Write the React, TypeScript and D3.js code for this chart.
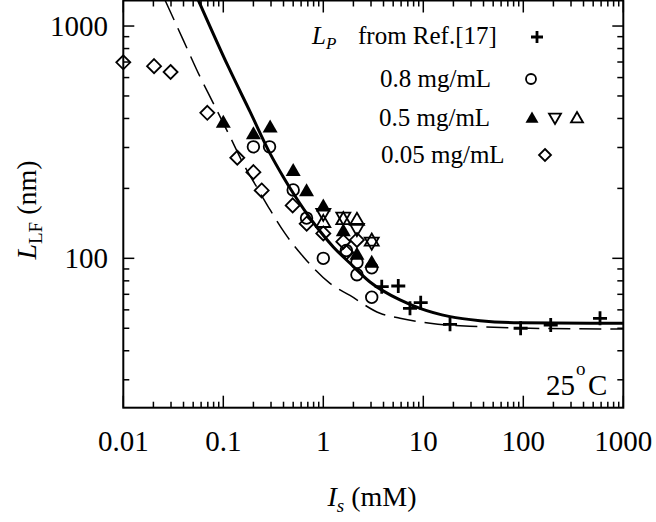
import React from 'react';
import * as d3 from 'd3';

// ---- data ----
const xMajor = [0.01, 0.1, 1, 10, 100, 1000];
const xTickLabels = ['0.01', '0.1', '1', '10', '100', '1000'];
const yMajor = [100, 1000];
const yTickLabels = ['100', '1000'];

// L_P from Ref.[17]
const plusX = [3.84, 5.62, 7.36, 9.42, 18.5, 94, 188, 585];
const plusY = [75.5, 76, 60.9, 64.4, 52, 50, 51.6, 55.2];

// 0.8 mg/mL (open circles)
const circX = [0.2, 0.29, 0.5, 0.68, 1.0, 1.7, 2.17, 2.17, 3.05, 3.05];
const circY = [302, 302, 197, 149, 100, 108, 96, 85, 91, 68];

// 0.5 mg/mL filled up-triangles
const ftriX = [0.1, 0.2, 0.294, 0.5, 0.68, 1.0, 1.585, 2.17, 3.05];
const ftriY = [381, 340, 363, 236, 193, 166, 130, 103, 95];
// 0.5 mg/mL open down-triangles
const dtriX = [1.0, 1.585, 2.17, 3.05];
const dtriY = [157, 151, 135, 118];
// 0.5 mg/mL open up-triangles
const utriX = [1.0, 1.585, 2.17, 3.05];
const utriY = [142, 146, 145, 118];

// 0.05 mg/mL (open diamonds)
const diaX = [0.01, 0.0203, 0.0297, 0.0692, 0.138, 0.2, 0.242, 0.494, 0.682, 1.0, 1.585, 1.7, 2.17];
const diaY = [698, 672, 634, 423, 271, 235, 196, 169, 141, 128, 118, 106, 120];

// solid theory curve
const solidX = [0.0562, 0.1122, 0.185, 0.293, 0.398, 0.501, 0.682, 0.826, 1.259, 1.85, 2.93, 5.85, 9.27, 18.5, 36.9, 92.7, 1000];
const solidY = [1294, 668, 428, 283, 224, 190.5, 156, 139.5, 112, 95.2, 79.1, 66.2, 60.9, 56.1, 53.9, 52.8, 52.5];

// dashed theory curve
const dashX = [0.0261, 0.0398, 0.0585, 0.0766, 0.1167, 0.158, 0.22, 0.293, 0.414, 0.631, 1.167, 1.85, 3.69, 5.85, 11.7, 36.9, 116.7, 1000];
const dashY = [1294, 870, 605, 480, 334, 256, 200, 162, 128, 101.6, 78, 69.2, 58, 55.2, 52.5, 50.8, 50, 49.6];

const FONT = "'Liberation Serif', 'Times New Roman', serif";

const triPath = (s: number, up: boolean) => {
  const h = (s * Math.sqrt(3)) / 2;
  const a = up ? -1 : 1;
  return `M0,${(a * 2 * h) / 3}L${s / 2},${(-a * h) / 3}L${-s / 2},${(-a * h) / 3}Z`;
};
const diaPath = (r: number) => `M0,${-r}L${r},0L0,${r}L${-r},0Z`;
const plusPath = (r: number) => `M${-r},0H${r}M0,${-r}V${r}`;

export default function App() {
  const L = 123.3, R = 623.3, T = 0.5, B = 407.7;
  const x = d3.scaleLog().domain([0.01, 1000]).range([L, R]);
  const y = d3.scaleLog().domain([22.75, 1288]).range([B, T]);

  const xAll = x.ticks();
  const yAll = y.ticks();
  const isMajor = (v: number) => Math.abs(Math.log10(v) - Math.round(Math.log10(v))) < 1e-6;

  const line = d3
    .line<[number, number]>()
    .x((d) => x(d[0]))
    .y((d) => y(d[1]))
    .curve(d3.curveMonotoneX);

  const solidPts = solidX.map((v, i) => [v, solidY[i]] as [number, number]);
  const dashPts = dashX.map((v, i) => [v, dashY[i]] as [number, number]);

  const sw = 1.8;

  return (
    <svg width={656} height={522} style={{ position: 'absolute', left: 0, top: 0, background: '#fff' }} fontFamily={FONT}>
      <defs>
        <clipPath id="plot">
          <rect x={L} y={T} width={R - L} height={B - T} />
        </clipPath>
      </defs>
      <rect x={0} y={0} width={656} height={522} fill="#fff" />

      {/* curves */}
      <g clipPath="url(#plot)">
        <path d={line(dashPts) || ''} fill="none" stroke="#000" strokeWidth={1.5} strokeDasharray="22 9" />
        <path d={line(solidPts) || ''} fill="none" stroke="#000" strokeWidth={3} />
      </g>

      {/* markers */}
      <g fill="none" stroke="#000" strokeWidth={sw}>
        {diaX.map((v, i) => (
          <path key={'d' + i} d={diaPath(7)} transform={`translate(${x(v)},${y(diaY[i])})`} />
        ))}
        {circX.map((v, i) => (
          <circle key={'c' + i} cx={x(v)} cy={y(circY[i])} r={5.8} />
        ))}
        {dtriX.map((v, i) => (
          <path key={'dt' + i} d={triPath(14, false)} transform={`translate(${x(v)},${y(dtriY[i])})`} />
        ))}
        {utriX.map((v, i) => (
          <path key={'ut' + i} d={triPath(14, true)} transform={`translate(${x(v)},${y(utriY[i])})`} />
        ))}
        {ftriX.map((v, i) => (
          <path key={'ft' + i} d={triPath(15, true)} transform={`translate(${x(v)},${y(ftriY[i])})`} fill="#000" stroke="none" />
        ))}
        {plusX.map((v, i) => (
          <path key={'p' + i} d={plusPath(7)} transform={`translate(${x(v)},${y(plusY[i])})`} strokeWidth={2.8} />
        ))}
      </g>

      {/* frame */}
      <rect x={L} y={T} width={R - L} height={B - T} fill="none" stroke="#000" strokeWidth={2} />

      {/* ticks, inward on all four sides */}
      <g stroke="#000" strokeWidth={1.5}>
        {xAll.map((v, i) => {
          const len = isMajor(v) ? 12 : 6;
          const px = x(v);
          return (
            <g key={'xt' + i}>
              <line x1={px} x2={px} y1={B} y2={B - len} />
              <line x1={px} x2={px} y1={T} y2={T + len} />
            </g>
          );
        })}
        {yAll.map((v, i) => {
          const len = isMajor(v) ? 11 : 6;
          const py = y(v);
          return (
            <g key={'yt' + i}>
              <line x1={L} x2={L + len} y1={py} y2={py} />
              <line x1={R} x2={R - len} y1={py} y2={py} />
            </g>
          );
        })}
      </g>

      {/* tick labels */}
      <g fontSize={29} fill="#000">
        {xMajor.map((v, i) => (
          <text key={'xl' + i} x={x(v)} y={451} textAnchor="middle">
            {xTickLabels[i]}
          </text>
        ))}
        {yMajor.map((v, i) => (
          <text key={'yl' + i} x={108} y={y(v) + 10} textAnchor="end">
            {yTickLabels[i]}
          </text>
        ))}
      </g>

      {/* axis titles */}
      <text x={372} y={506} textAnchor="middle" fontSize={28}>
        <tspan fontStyle="italic">I</tspan>
        <tspan fontStyle="italic" fontSize={19} dy={6}>s</tspan>
        <tspan dy={-6}> (mM)</tspan>
      </text>
      <text transform="translate(36,210) rotate(-90)" textAnchor="middle" fontSize={28}>
        <tspan fontStyle="italic">L</tspan>
        <tspan fontSize={19} dy={6}>LF</tspan>
        <tspan dy={-6}> (nm)</tspan>
      </text>

      {/* 25 °C */}
      <text x={546} y={395} fontSize={29}>25</text>
      <text x={576} y={375} fontSize={19}>o</text>
      <text x={588} y={395} fontSize={29}>C</text>

      {/* legend */}
      <g fontSize={25}>
        <text x={312} y={44}>
          <tspan fontStyle="italic">L</tspan>
          <tspan fontStyle="italic" fontSize={17} dy={5}>P</tspan>
        </text>
        <text x={358} y={44}>from Ref.[17]</text>
        <text x={380} y={87}>0.8 mg/mL</text>
        <text x={379} y={126}>0.5 mg/mL</text>
        <text x={381} y={163}>0.05 mg/mL</text>
      </g>
      <g fill="none" stroke="#000" strokeWidth={sw}>
        <path d={plusPath(6)} transform="translate(537,37)" strokeWidth={2.8} />
        <circle cx={531} cy={79} r={5} />
        <path d={triPath(13, true)} transform="translate(532,119)" fill="#000" stroke="none" />
        <path d={triPath(12, false)} transform="translate(555,117)" />
        <path d={triPath(12, true)} transform="translate(577,119)" />
        <path d={diaPath(6)} transform="translate(545,155)" />
      </g>
    </svg>
  );
}
